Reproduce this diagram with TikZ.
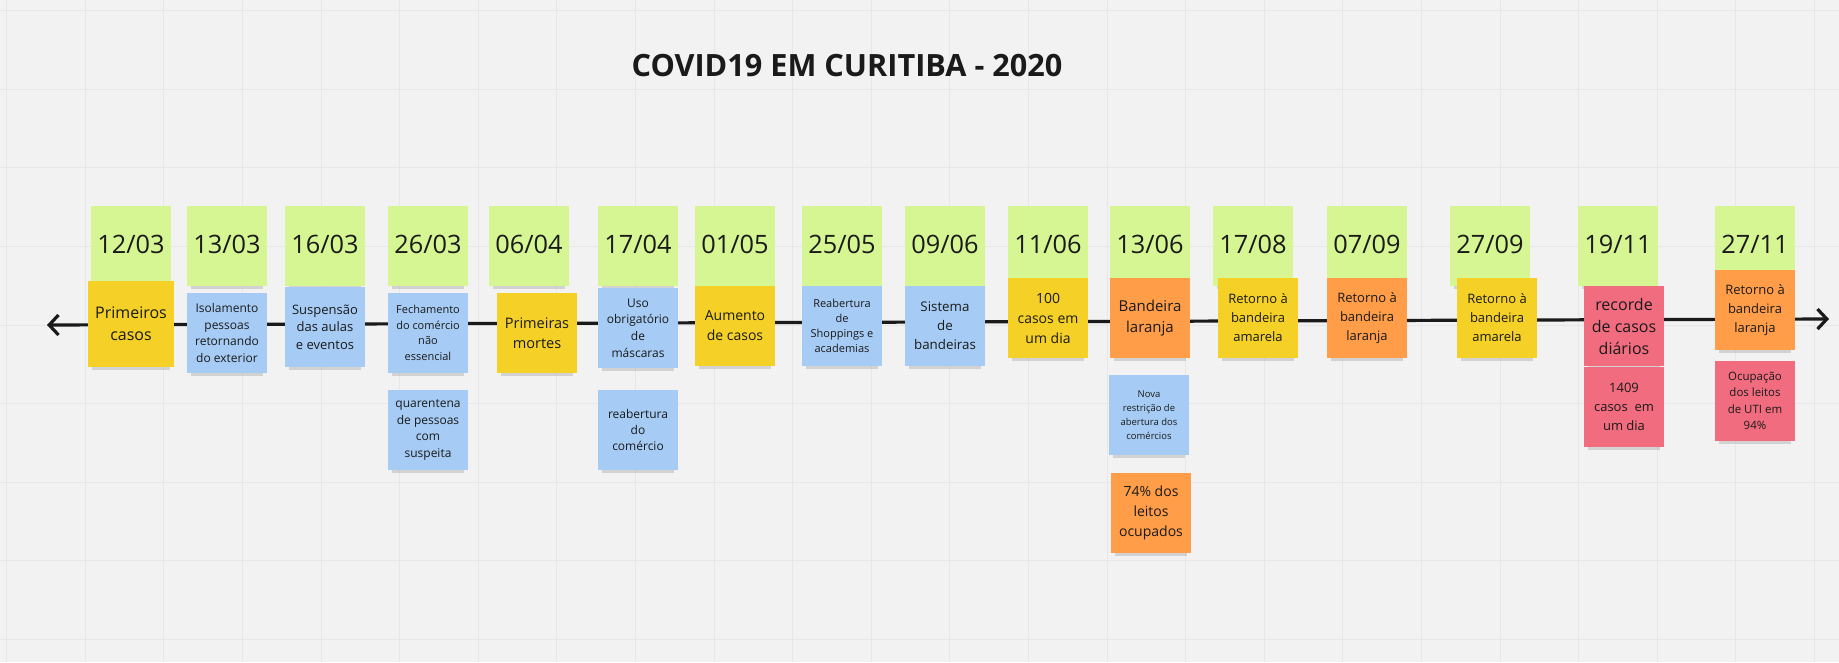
\documentclass[tikz,border=0pt]{standalone}
\usepackage{fontspec}
\setmainfont{Open Sans}
\usetikzlibrary{arrows.meta,shadows}
\definecolor{board}{HTML}{F2F2F2}
\definecolor{gridcol}{HTML}{E7E7E7}
\definecolor{datecol}{HTML}{D5F692}
\definecolor{yellowcol}{HTML}{F5D128}
\definecolor{bluecol}{HTML}{A6CCF5}
\definecolor{orangecol}{HTML}{FF9D48}
\definecolor{redcol}{HTML}{F16C7F}
\definecolor{ink}{HTML}{1A1A1A}
\newcommand{\fsz}[2]{\fontsize{#1}{#2}\selectfont}

\begin{document}
\begin{tikzpicture}[x=0.75pt, y=-0.75pt,
  gridline/.style={draw=gridcol, line width=0.75pt},
  timeline/.style={draw=ink, line width=2.4pt, {Straight Barb[length=7pt,width=15pt]}-{Straight Barb[length=7pt,width=15pt]}},
  note/.style={minimum width=60pt, minimum height=60pt, inner sep=1pt, align=center, text=ink,
    drop shadow={shadow xshift=0pt, shadow yshift=-6pt, shadow scale=0.9, opacity=0.28}},
  datenote/.style={note, fill=datecol, font=\fsz{19}{23}, text depth=3pt},
  yel/.style={note, fill=yellowcol},
  blu/.style={note, fill=bluecol},
  org/.style={note, fill=orangecol},
  rd/.style={note, fill=redcol},
  heading/.style={font=\bfseries\fsz{23}{27}, text=ink}
]
  \useasboundingbox (0,0) rectangle (1839,662);
  \fill[board] (0,0) rectangle (1839,662);
  \foreach \gx in {0,...,23} \draw[gridline] ({6.7+78.6*\gx},0) -- ({6.7+78.6*\gx},662);
  \foreach \gy in {0,...,8} \draw[gridline] (0,{10.6+78.6*\gy}) -- (1839,{10.6+78.6*\gy});

  \node[heading] (title) at (847,66) {COVID19 EM CURITIBA - 2020};

  \coordinate (tl) at (47,325);
  \coordinate (tr) at (1829,319);
  \draw[timeline] (tl) -- (tr);

  % datas
  \node[datenote] (d1203) at (131,246) {12/03};
  \node[datenote] (d1303) at (227,246) {13/03};
  \node[datenote] (d1603) at (325,246) {16/03};
  \node[datenote] (d2603) at (428,246) {26/03};
  \node[datenote] (d0604) at (529,246) {06/04};
  \node[datenote] (d1704) at (638,246) {17/04};
  \node[datenote] (d0105) at (735,246) {01/05};
  \node[datenote] (d2505) at (842,246) {25/05};
  \node[datenote] (d0906) at (945,246) {09/06};
  \node[datenote] (d1106) at (1048,246) {11/06};
  \node[datenote] (d1306) at (1150,246) {13/06};
  \node[datenote] (d1708) at (1253,246) {17/08};
  \node[datenote] (d0709) at (1367,246) {07/09};
  \node[datenote] (d2709) at (1490,246) {27/09};
  \node[datenote] (d1911) at (1618,246) {19/11};
  \node[datenote] (d2711) at (1755,246) {27/11};

  % eventos
  \node[yel, minimum width=64.5pt, minimum height=64.5pt, font=\fsz{12}{16.5}] (n1203) at (131,324) {Primeiros\\casos};
  \node[blu, font=\fsz{9}{12.6}] (n1303) at (227,333) {Isolamento\\pessoas\\retornando\\do exterior};
  \node[blu, font=\fsz{9.75}{13}] (n1603) at (325,327) {Suspensão\\das aulas\\e eventos};
  \node[blu, font=\fsz{8.25}{11.6}] (n2603) at (428,333) {Fechamento\\do comércio\\não\\essencial};
  \node[blu, font=\fsz{9}{12.6}] (n2603b) at (428,430) {quarentena\\de pessoas\\com\\suspeita};
  \node[yel, font=\fsz{10.9}{15}] (n0604) at (537,333) {Primeiras\\mortes};
  \node[blu, font=\fsz{9}{12.6}] (n1704) at (638,328) {Uso\\obrigatório\\de\\máscaras};
  \node[blu, font=\fsz{9}{12.3}] (n1704b) at (638,430) {reabertura\\do\\comércio};
  \node[yel, font=\fsz{10.5}{15}] (n0105) at (735,326) {Aumento\\de casos};
  \node[blu, font=\fsz{8.25}{11.2}] (n2505) at (842,326) {Reabertura\\de\\Shoppings e\\academias};
  \node[blu, font=\fsz{10}{14.2}] (n0906) at (945,326) {Sistema\\de\\bandeiras};
  \node[yel, font=\fsz{10.5}{15}] (n1106) at (1048,318) {100\\casos em\\um dia};
  \node[org, font=\fsz{11.25}{15.7}] (n1306) at (1150,318) {Bandeira\\laranja};
  \node[blu, font=\fsz{7.1}{10.5}] (n1306b) at (1149,415) {Nova\\restrição de\\abertura dos\\comércios};
  \node[org, font=\fsz{10.5}{15}] (n1306c) at (1151,513) {74\% dos\\leitos\\ocupados};
  \node[yel, font=\fsz{9.75}{14.2}] (n1708) at (1258,318) {Retorno à\\bandeira\\amarela};
  \node[org, font=\fsz{9.75}{14.2}] (n0709) at (1367,318) {Retorno à\\bandeira\\laranja};
  \node[yel, font=\fsz{9.75}{14.2}] (n2709) at (1497,318) {Retorno à\\bandeira\\amarela};
  \node[rd, font=\fsz{12}{16.5}] (n1911) at (1624,326) {recorde\\de casos\\diários};
  \node[rd, font=\fsz{9.75}{14.2}] (n1911b) at (1624,407) {1409\\casos~ em\\um dia};
  \node[org, font=\fsz{9.75}{14.2}] (n2711) at (1755,310) {Retorno à\\bandeira\\laranja};
  \node[rd, font=\fsz{8.6}{12.3}] (n2711b) at (1755,401) {Ocupação\\dos leitos\\de UTI em\\94\%};
\end{tikzpicture}
\end{document}
